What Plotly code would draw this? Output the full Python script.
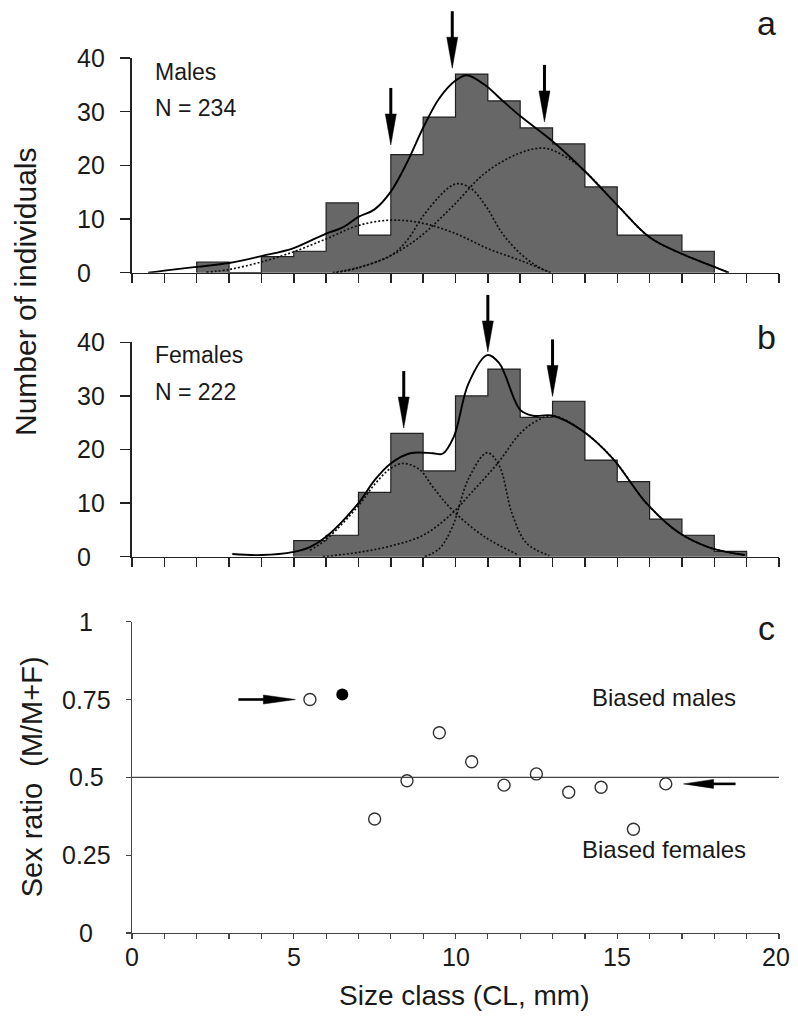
import plotly.graph_objects as go

# ---------------- data ----------------
# Panel a: males histogram (1-mm size classes, left edges)
male_bin_left = [2, 3, 4, 5, 6, 7, 8, 9, 10, 11, 12, 13, 14, 15, 16, 17]
male_counts = [2, 0, 3, 4, 13, 7, 22, 29, 37, 32, 27, 24, 16, 7, 7, 4]
# fitted total curve
male_total_x = [0.5, 1.0, 2.0, 3.0, 4.0, 5.0, 6.0, 6.5, 7.0, 7.5, 8.0, 8.5, 9.0, 9.5, 10.0, 10.35, 10.9, 11.5, 12.0, 13.0, 14.0, 15.0, 16.0, 17.0, 18.0, 18.45]
male_total_y = [0.0, 0.4, 1.1, 1.8, 3.1, 4.6, 7.3, 8.4, 10.4, 11.8, 15.1, 20.5, 27.0, 32.5, 35.8, 36.8, 35.0, 31.8, 29.2, 24.5, 18.9, 12.6, 6.6, 3.5, 1.1, 0.0]
# cohort components
male_c1_x = [2.3, 3.0, 4.0, 5.0, 6.0, 7.0, 8.0, 9.0, 10.0, 11.0, 12.0, 12.95]
male_c1_y = [0.1, 0.6, 2.0, 3.9, 6.3, 8.8, 9.8, 9.2, 7.3, 4.5, 2.3, 0.0]
male_c2_x = [6.2, 7.0, 8.0, 8.5, 9.0, 9.5, 9.85, 10.1, 10.5, 10.95, 11.45, 12.0, 12.5, 12.9]
male_c2_y = [0.0, 1.0, 3.2, 6.0, 10.6, 14.2, 16.1, 16.6, 15.6, 12.3, 7.3, 3.6, 1.3, 0.1]
male_c3_x = [6.3, 7.0, 8.0, 8.9, 9.9, 10.9, 11.95, 12.75, 13.4, 14.0, 15.0, 16.0, 17.0, 18.0, 18.45]
male_c3_y = [0.0, 0.9, 3.2, 6.7, 12.3, 18.5, 22.2, 23.2, 21.6, 18.9, 12.6, 6.6, 3.5, 1.1, 0.0]
male_arrow_x = [8.0, 9.9, 12.75]
male_arrow_tip = [23.8, 38.1, 28.1]

# Panel b: females
female_bin_left = [5, 6, 7, 8, 9, 10, 11, 12, 13, 14, 15, 16, 17, 18]
female_counts = [3, 4, 12, 23, 16, 30, 35, 26, 29, 18, 14, 7, 4, 1]
female_total_x = [3.1, 4.0, 5.0, 5.5, 6.0, 7.0, 7.5, 8.0, 8.6, 9.3, 9.6, 9.95, 10.4, 10.98, 11.35, 12.0, 12.4, 13.0, 13.9, 14.85, 15.9, 16.9, 17.9, 18.95]
female_total_y = [0.5, 0.3, 0.9, 1.8, 3.7, 10.0, 14.3, 17.4, 19.3, 19.3, 19.2, 22.4, 32.3, 37.6, 36.1, 27.4, 26.3, 26.3, 23.6, 18.4, 10.0, 4.5, 1.6, 0.3]
female_c1_x = [5.5, 6.0, 7.0, 7.5, 8.0, 8.4, 8.9, 9.3, 9.9, 10.9, 11.95]
female_c1_y = [1.2, 3.2, 9.5, 13.5, 16.5, 17.4, 16.2, 13.0, 8.7, 3.7, 0.3]
female_c2_x = [9.05, 9.5, 9.9, 10.4, 10.98, 11.35, 11.75, 12.2, 12.9]
female_c2_y = [0.0, 1.5, 5.5, 14.5, 19.4, 17.0, 8.0, 2.5, 0.2]
female_c3_x = [5.9, 7.0, 8.0, 9.0, 9.9, 10.5, 11.3, 12.0, 12.5, 13.0, 13.9, 14.85, 15.9, 16.9, 17.9, 18.95]
female_c3_y = [0.0, 0.8, 2.0, 4.0, 8.1, 12.0, 17.4, 23.0, 25.3, 26.3, 23.6, 18.4, 10.0, 4.5, 1.6, 0.3]
female_arrow_x = [8.4, 11.0, 13.0]
female_arrow_tip = [24.0, 38.2, 29.9]

# Panel c: sex ratio per size class
ratio_x = [5.5, 6.5, 7.5, 8.5, 9.5, 10.5, 11.5, 12.5, 13.5, 14.5, 15.5, 16.5]
ratio_y = [0.75, 0.766, 0.366, 0.489, 0.643, 0.55, 0.475, 0.511, 0.452, 0.468, 0.333, 0.479]
ratio_significant = [False, True, False, False, False, False, False, False, False, False, False, False]
parity = 0.5
c_arrow_right = (5.05, 0.75)   # tip of arrow pointing right
c_arrow_left = (17.05, 0.479)  # tip of arrow pointing left

X_RANGE = [0, 20]
HIST_Y_RANGE = [0, 40]
RATIO_Y_RANGE = [0, 1]
y_ticks_hist = [0, 10, 20, 30, 40]
y_ticks_ratio = [0, 0.25, 0.5, 0.75, 1]
y_ticks_ratio_text = ["0", "0.25", "0.5", "0.75", "1"]
x_ticks_ratio = [0, 5, 10, 15, 20]

# ---------------- style ----------------
FONT = "Liberation Sans, Arial, Helvetica, sans-serif"
TXT = "#1a1a1a"
BAR = "#676767"
AX = "#222222"
TICK_SIZE = 25

fig = go.Figure()


def add_hist(xref, yref, lefts, counts, tx, ty, comps):
    centers = [l + 0.5 for l in lefts]
    fig.add_trace(go.Bar(x=centers, y=counts, width=1, xaxis=xref, yaxis=yref,
                         marker=dict(color=BAR, line=dict(width=0)), showlegend=False))
    sx = [lefts[0]] + lefts + [lefts[-1] + 1]
    sy = [0] + counts + [0]
    fig.add_trace(go.Scatter(x=sx, y=sy, mode="lines", line=dict(color="#202020", width=1.2, shape="hv"),
                             xaxis=xref, yaxis=yref, showlegend=False, hoverinfo="skip"))
    for cx, cy in comps:
        fig.add_trace(go.Scatter(x=cx, y=cy, mode="lines",
                                 line=dict(color="#111", width=1.7, dash="2px,2px", shape="spline", smoothing=1.0),
                                 xaxis=xref, yaxis=yref, showlegend=False))
    fig.add_trace(go.Scatter(x=tx, y=ty, mode="lines",
                             line=dict(color="#000", width=1.9, shape="spline", smoothing=1.0),
                             xaxis=xref, yaxis=yref, showlegend=False))


add_hist("x", "y", male_bin_left, male_counts, male_total_x, male_total_y,
         [(male_c1_x, male_c1_y), (male_c2_x, male_c2_y), (male_c3_x, male_c3_y)])
add_hist("x2", "y2", female_bin_left, female_counts, female_total_x, female_total_y,
         [(female_c1_x, female_c1_y), (female_c2_x, female_c2_y), (female_c3_x, female_c3_y)])

open_x = [x for x, s in zip(ratio_x, ratio_significant) if not s]
open_y = [y for y, s in zip(ratio_y, ratio_significant) if not s]
sig_x = [x for x, s in zip(ratio_x, ratio_significant) if s]
sig_y = [y for y, s in zip(ratio_y, ratio_significant) if s]
fig.add_trace(go.Scatter(x=open_x, y=open_y, mode="markers", xaxis="x3", yaxis="y3",
                         marker=dict(symbol="circle-open", size=12, color="#333", line=dict(width=1.4)),
                         showlegend=False, cliponaxis=False))
fig.add_trace(go.Scatter(x=sig_x, y=sig_y, mode="markers", xaxis="x3", yaxis="y3",
                         marker=dict(symbol="circle", size=12, color="#000"),
                         showlegend=False, cliponaxis=False))

shapes = []
shapes.append(dict(type="line", xref="x3", yref="y3", x0=X_RANGE[0], x1=X_RANGE[1], y0=parity, y1=parity,
                   line=dict(color="#444", width=1.3), layer="below"))


def frac(v, rng):
    return (v - rng[0]) / (rng[1] - rng[0])


def down_arrow(ax_id, x, y, yrng, total=57, head=31, hw=5.5, sw=3):
    xr, yr = f"{ax_id[0]} domain", f"{ax_id[1]} domain"
    xa, ya = frac(x, X_RANGE), frac(y, yrng)
    shapes.append(dict(type="line", xref=xr, yref=yr, xsizemode="pixel", ysizemode="pixel",
                       xanchor=xa, yanchor=ya, x0=0, x1=0, y0=head - 2, y1=total,
                       line=dict(color="#000", width=sw)))
    shapes.append(dict(type="path", xref=xr, yref=yr, xsizemode="pixel", ysizemode="pixel",
                       xanchor=xa, yanchor=ya, path=f"M 0 0 L {-hw} {head} L {hw} {head} Z",
                       fillcolor="#000", line=dict(color="#000", width=0.5)))


def side_arrow(ax_id, x, y, yrng, direction, total=57, head=32, hw=4.5, sw=2.6):
    xr, yr = f"{ax_id[0]} domain", f"{ax_id[1]} domain"
    xa, ya = frac(x, X_RANGE), frac(y, yrng)
    d = direction
    shapes.append(dict(type="line", xref=xr, yref=yr, xsizemode="pixel", ysizemode="pixel",
                       xanchor=xa, yanchor=ya, x0=-d * (head - 2), x1=-d * total, y0=0, y1=0,
                       line=dict(color="#000", width=sw)))
    shapes.append(dict(type="path", xref=xr, yref=yr, xsizemode="pixel", ysizemode="pixel",
                       xanchor=xa, yanchor=ya, path=f"M 0 0 L {-d * head} {hw} L {-d * head} {-hw} Z",
                       fillcolor="#000", line=dict(color="#000", width=0.5)))


for ax_, ay_ in zip(male_arrow_x, male_arrow_tip):
    down_arrow(("x", "y"), ax_, ay_, HIST_Y_RANGE)
for ax_, ay_ in zip(female_arrow_x, female_arrow_tip):
    down_arrow(("x2", "y2"), ax_, ay_, HIST_Y_RANGE)
side_arrow(("x3", "y3"), c_arrow_right[0], c_arrow_right[1], RATIO_Y_RANGE, +1)
side_arrow(("x3", "y3"), c_arrow_left[0], c_arrow_left[1], RATIO_Y_RANGE, -1, total=52, head=30)

ann = []


def txt(text, x, y, xref, yref, size, xanchor="left", xshift=0, yshift=0):
    ann.append(dict(text=text, x=x, y=y, xref=xref, yref=yref, showarrow=False, xshift=xshift, yshift=yshift,
                    xanchor=xanchor, yanchor="middle", font=dict(family=FONT, size=size, color=TXT)))


# y tick labels (left aligned in a/b, centred in c, as in the original figure)
for v in y_ticks_hist:
    txt(str(v), 0, v, "x domain", "y", TICK_SIZE, xanchor="left", xshift=-57)
    txt(str(v), 0, v, "x2 domain", "y2", TICK_SIZE, xanchor="left", xshift=-57)
for v, t in zip(y_ticks_ratio, y_ticks_ratio_text):
    txt(t, 0, v, "x3 domain", "y3", TICK_SIZE, xanchor="center", xshift=-46)
# x tick labels of panel c (the last one nudged so it stays inside the page)
for v in x_ticks_ratio:
    txt(str(v), v, 0, "x3", "y3 domain", TICK_SIZE, xanchor="center",
        xshift=-3 if v == X_RANGE[1] else 0, yshift=-24)

txt("Males", 0.0325, 0.935, "x domain", "y domain", 23)
txt("N = 234", 0.0325, 0.7675, "x domain", "y domain", 23)
txt("a", 0.98, 1.165, "x domain", "y domain", 34, xanchor="center")
txt("Females", 0.0325, 0.94, "x2 domain", "y2 domain", 23)
txt("N = 222", 0.0325, 0.77, "x2 domain", "y2 domain", 23)
txt("b", 0.98, 1.025, "x2 domain", "y2 domain", 34, xanchor="center")
txt("c", 0.98, 0.979, "x3 domain", "y3 domain", 34, xanchor="center")
txt("Biased males", 0.8225, 0.757, "x3 domain", "y3 domain", 24, xanchor="center")
txt("Biased females", 0.8225, 0.267, "x3 domain", "y3 domain", 24, xanchor="center")

ann.append(dict(text="Number of individuals", x=0, y=0.7326, xref="paper", yref="paper",
                xanchor="center", yanchor="middle", textangle=-90, showarrow=False, xshift=-106,
                font=dict(family=FONT, size=30, color=TXT)))
ann.append(dict(text="Sex ratio\u00a0\u00a0(M/M+F)", x=0, y=0.1779, xref="paper", yref="paper",
                xanchor="center", yanchor="middle", textangle=-90, showarrow=False, xshift=-100,
                font=dict(family=FONT, size=29, color=TXT)))
ann.append(dict(text="Size class (CL, mm)", x=0.5, y=0, xref="paper", yref="paper",
                xanchor="center", yanchor="middle", showarrow=False, xshift=8, yshift=-62,
                font=dict(family=FONT, size=28, color=TXT)))

hist_x = dict(range=X_RANGE, showline=True, linecolor=AX, linewidth=1.6, ticks="outside", ticklen=9,
              tickwidth=1.5, tickcolor=AX, dtick=1, tick0=0, showticklabels=False, showgrid=False,
              zeroline=False, fixedrange=True)
hist_y = dict(range=HIST_Y_RANGE, showline=True, linecolor=AX, linewidth=1.6, ticks="outside", ticklen=10,
              tickwidth=1.5, tickcolor=AX, tickvals=y_ticks_hist, showticklabels=False, showgrid=False,
              zeroline=False, fixedrange=True)

# The page body keeps its default 8 px margin, so the figure is 16 px smaller than the window
# and its margins are 8 px smaller; the plot areas land where they are in the original.
fig.update_layout(
    width=782, height=1003,
    margin=dict(l=124, r=11, t=50, b=78),
    plot_bgcolor="white", paper_bgcolor="white",
    showlegend=False,
    xaxis=dict(hist_x, domain=[0, 1], anchor="y"),
    yaxis=dict(hist_y, domain=[0.7546, 1.0], anchor="x"),
    xaxis2=dict(hist_x, domain=[0, 1], anchor="y2"),
    yaxis2=dict(hist_y, domain=[0.4301, 0.6751], anchor="x2"),
    xaxis3=dict(range=X_RANGE, showline=True, linecolor="#444", linewidth=1.3, ticks="outside", ticklen=5,
                tickwidth=1.2, tickcolor="#444", tickvals=x_ticks_ratio, showticklabels=False,
                showgrid=False, zeroline=False,
                minor=dict(dtick=1, tick0=0, ticks="outside", ticklen=5, tickwidth=1.2, tickcolor="#444"),
                domain=[0, 1], anchor="y3", fixedrange=True),
    yaxis3=dict(range=RATIO_Y_RANGE, showline=True, linecolor="#444", linewidth=1.3, ticks="outside", ticklen=5,
                tickwidth=1.2, tickcolor="#444", tickvals=y_ticks_ratio, showticklabels=False,
                showgrid=False, zeroline=False, domain=[0, 0.3558], anchor="x3", fixedrange=True),
    shapes=shapes,
    annotations=ann,
    bargap=0,
)

fig.write_html("out.html", config={"displayModeBar": False, "staticPlot": True})
